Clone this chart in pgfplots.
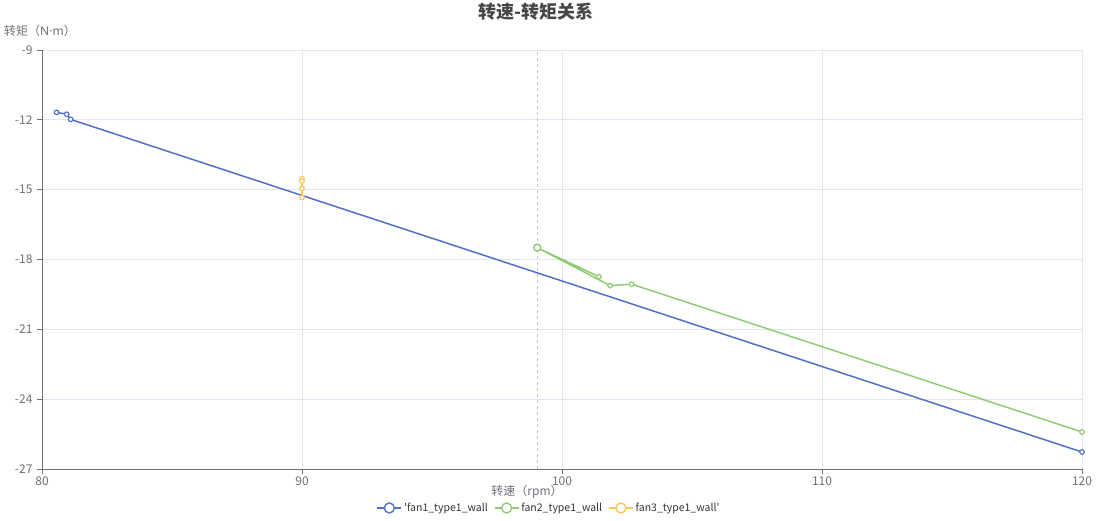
\documentclass[border=0pt]{standalone}
\usepackage{pgfplots}
\pgfplotsset{compat=1.18}
\usepackage{fontspec}
\setmainfont{Noto Sans CJK SC}
\newfontfamily\latinfont{Noto Sans}
\definecolor{c1}{HTML}{5470C6}
\definecolor{c2}{HTML}{91CC75}
\definecolor{c3}{HTML}{FAC858}
\definecolor{axisgray}{HTML}{6E7079}
\definecolor{gridc}{HTML}{E0E6F1}
\definecolor{titlec}{HTML}{464646}
\definecolor{legc}{HTML}{333333}
\begin{document}
\begin{tikzpicture}[x=1pt,y=1pt]
\path[use as bounding box] (0pt,0pt) rectangle (1099pt,520pt);
\begin{axis}[
  at={(42pt,51pt)}, anchor=south west,
  scale only axis, width=1040pt, height=419pt,
  xmin=80, xmax=120, ymin=-27, ymax=-9,
  xtick={80,90,...,120}, ytick={-27,-24,...,-9},
  axis x line=bottom, axis y line=left,
  axis line style={-, axisgray, line width=0.8pt},
  grid=major, grid style={gridc, line width=0.8pt},
  tick style={axisgray, line width=0.8pt},
  tick align=outside, major tick length=5pt,
  /pgf/number format/assume math mode=true,
  ticklabel style={font=\fontsize{12}{14}\selectfont, text=axisgray},
  xticklabel style={yshift=1pt},
  yticklabel style={xshift=-1pt},
  clip=false,
  legend style={at={(0.4875,-0.093)}, anchor=center, draw=none, fill=none,
    legend columns=3, font=\fontsize{10.5}{13}\selectfont, text=legc,
    nodes={inner xsep=2pt},
    /tikz/every even column/.append style={column sep=4pt}},
  legend image code/.code={
    \draw[#1, mark=none] (0pt,0pt) -- (24pt,0pt);
    \draw[#1, only marks, mark size=5pt, mark options={fill=white, line width=1.4pt}] plot coordinates {(12pt,0pt)};
  },
]
\addplot[gray!45, dashed, line width=0.8pt, forget plot] coordinates {(99.05,-27) (99.05,-9)};
\addplot[c1, line width=1.5pt, mark=*, mark size=2.3pt, mark options={fill=white, line width=1.2pt}]
  coordinates {(80.56,-11.68) (80.95,-11.76) (81.10,-11.98) (120,-26.27)};
\addlegendentry{\textquotesingle fan1\_type1\_wall}
\addplot[c2, line width=1.5pt, mark=*, mark size=2.3pt, mark options={fill=white, line width=1.2pt}]
  coordinates {(101.42,-18.74) (99.05,-17.49) (101.85,-19.12) (102.68,-19.06) (120,-25.41)};
\addlegendentry{fan2\_type1\_wall}
\addplot[c3, line width=1.5pt, mark=*, mark size=2.3pt, mark options={fill=white, line width=1.2pt}]
  coordinates {(90,-14.52) (90,-14.63) (90,-14.95) (90,-15.34)};
\addlegendentry{fan3\_type1\_wall\textquotesingle}
\addplot[c2, only marks, mark=*, mark size=3.5pt, mark options={fill=white, line width=1.4pt}, forget plot]
  coordinates {(99.05,-17.49)};
\end{axis}
\node[font=\bfseries\fontsize{18}{20}\selectfont, text=titlec] at (536pt,508pt) {转速-转矩关系};
\node[font=\fontsize{12}{14}\selectfont, text=axisgray] at (40pt,489pt) {转矩（{\latinfont N·m}）};
\node[font=\fontsize{12}{14}\selectfont, text=axisgray] at (527pt,28pt) {转速（rpm）};
\end{tikzpicture}
\end{document}
